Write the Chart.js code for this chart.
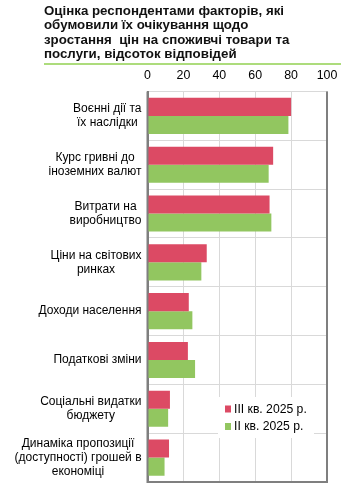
<!DOCTYPE html>
<html>
<head>
<meta charset="utf-8">
<script src="https://cdn.jsdelivr.net/npm/chart.js@4"></script>
<style>
  html, body { margin: 0; padding: 0; background: #fff; }
  #wrap { width: 358px; height: 488px; position: relative; }
</style>
</head>
<body>
<div id="wrap"><canvas id="chart"></canvas></div>
<script>
// chart data
const titleLines = [
    'Оцінка респондентами факторів, які',
    'обумовили їх очікування щодо',
    'зростання  цін на споживчі товари та',
    'послуги, відсоток відповідей'
];
const categories = [
    ['Воєнні дії та', 'їх наслідки'],
    ['Курс гривні до', 'іноземних валют'],
    ['Витрати на', 'виробництво'],
    ['Ціни на світових', 'ринках'],
    ['Доходи населення'],
    ['Податкові зміни'],
    ['Соціальні видатки', 'бюджету'],
    ['Динаміка пропозиції', '(доступності) грошей в', 'економіці']
];
const seriesNames = ['III кв. 2025 р.', 'II кв. 2025 р.'];
const q3Values = [80, 70, 68, 33, 23, 22.5, 12.5, 12];
const q2Values = [78.5, 67.5, 69, 30, 25, 26.5, 11.5, 9.5];
const xTicks = [0, 20, 40, 60, 80, 100];

const RED = '#dc4a64';
const GREEN = '#92c660';
const FONT = '"Liberation Sans", Arial, sans-serif';

// title, category labels, frame and legend drawn on the canvas
const decorPlugin = {
    id: 'decor',
    afterDraw(chart) {
        const ctx = chart.ctx;
        const area = chart.chartArea;
        const yScale = chart.scales.y;
        ctx.save();

        // title
        ctx.fillStyle = '#111';
        ctx.font = 'bold 13.3px ' + FONT;
        ctx.textAlign = 'left';
        ctx.textBaseline = 'middle';
        titleLines.forEach((line, i) => {
            ctx.fillText(line, 44, 11 + i * 14.6);
        });
        ctx.strokeStyle = '#92d050';
        ctx.lineWidth = 1.5;
        ctx.beginPath();
        ctx.moveTo(44, 64);
        ctx.lineTo(341, 64);
        ctx.stroke();

        // category labels: block right aligned, lines centred
        ctx.fillStyle = '#000';
        ctx.font = '12px ' + FONT;
        ctx.textAlign = 'center';
        const right = area.left - 6;
        chart.data.labels.forEach((lab, i) => {
            const lines = Array.isArray(lab) ? lab : [lab];
            const w = Math.max(...lines.map(l => ctx.measureText(l).width));
            const cx = right - w / 2;
            const cy = yScale.getPixelForValue(i);
            const lh = 14.3;
            lines.forEach((l, j) => {
                ctx.fillText(l, cx, cy + (j - (lines.length - 1) / 2) * lh);
            });
        });

        // frame
        ctx.strokeStyle = '#7f7f7f';
        ctx.lineWidth = 2;
        ctx.beginPath();
        ctx.moveTo(area.left, area.top);
        ctx.lineTo(area.left, area.bottom);
        ctx.lineTo(area.right, area.bottom);
        ctx.lineTo(area.right, area.top);
        ctx.stroke();

        // legend
        const lx = 225, ly = 409;
        ctx.fillStyle = '#fff';
        ctx.fillRect(lx - 7, ly - 12, 96, 41);
        chart.data.datasets.forEach((ds, i) => {
            const y = ly + i * 17.5;
            ctx.fillStyle = ds.backgroundColor;
            ctx.fillRect(lx, y - 3.5, 6, 7);
            ctx.fillStyle = '#000';
            ctx.textAlign = 'left';
            ctx.textBaseline = 'middle';
            ctx.font = '12.2px ' + FONT;
            ctx.fillText(ds.label, lx + 9, y + 0.5);
        });

        ctx.restore();
    }
};

new Chart(document.getElementById('chart'), {
    type: 'bar',
    data: {
        labels: categories,
        datasets: [
            { label: seriesNames[0], data: q3Values, backgroundColor: RED },
            { label: seriesNames[1], data: q2Values, backgroundColor: GREEN }
        ]
    },
    options: {
        indexAxis: 'y',
        responsive: true,
        maintainAspectRatio: false,
        animation: false,
        layout: { padding: { left: 0, right: 31, top: 0, bottom: 6 } },
        datasets: {
            bar: { categoryPercentage: 0.74, barPercentage: 1 }
        },
        plugins: {
            legend: { display: false },
            title: { display: false },
            tooltip: { enabled: false }
        },
        scales: {
            x: {
                position: 'top',
                min: 0,
                max: 100,
                afterBuildTicks: scale => {
                    scale.ticks = xTicks.map(v => ({ value: v }));
                },
                afterFit: scale => { scale.height = 91.5; },
                ticks: {
                    color: '#000',
                    font: { family: FONT, size: 12.4 },
                    padding: 8
                },
                grid: { color: '#d9d9d9', drawTicks: false },
                border: { color: '#d9d9d9' }
            },
            y: {
                afterFit: scale => { scale.width = 147.5; },
                ticks: { display: false },
                grid: { color: '#d9d9d9', drawTicks: false, offset: true },
                border: { color: '#7f7f7f', width: 2 }
            }
        }
    },
    plugins: [decorPlugin]
});
</script>
</body>
</html>
